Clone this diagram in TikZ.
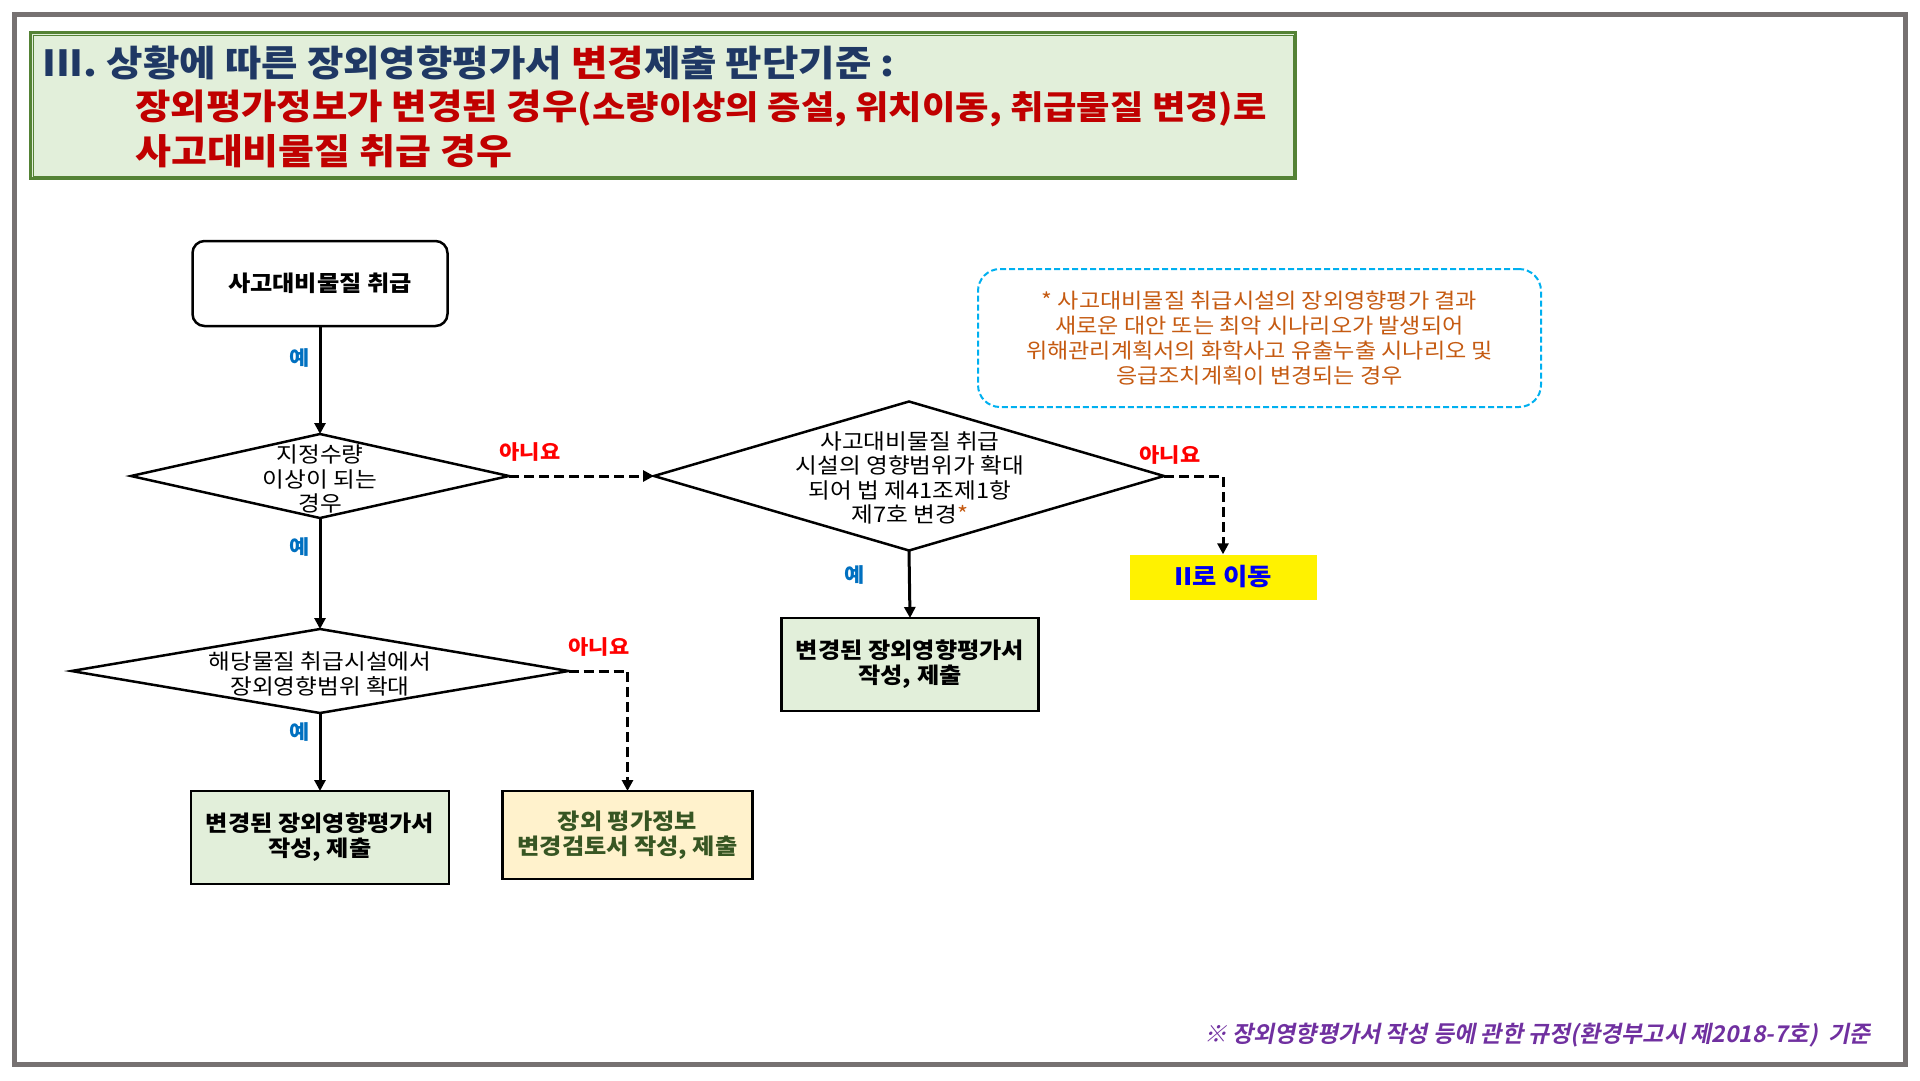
\documentclass[tikz,border=0pt]{standalone}
\usepackage{fontspec}
\setmainfont{Noto Sans CJK KR}[FakeStretch=1.1]
\newfontfamily\footfont{Noto Sans CJK KR Bold}[FakeSlant=0.2]
\usetikzlibrary{shapes.geometric,arrows.meta}
\definecolor{framegray}{RGB}{118,113,113}
\definecolor{titlegreen}{RGB}{84,130,53}
\definecolor{titlefill}{RGB}{226,239,218}
\definecolor{navy}{RGB}{31,56,100}
\definecolor{darkred}{RGB}{192,0,0}
\definecolor{yesblue}{RGB}{0,112,192}
\definecolor{nored}{RGB}{255,0,0}
\definecolor{notecyan}{RGB}{0,176,240}
\definecolor{noteorange}{RGB}{197,90,17}
\definecolor{boxgreen}{RGB}{226,239,218}
\definecolor{boxyellow}{RGB}{255,242,204}
\definecolor{textgreen}{RGB}{55,86,35}
\definecolor{gotoblue}{RGB}{0,0,240}
\definecolor{footpurple}{RGB}{112,48,160}
\tikzset{
  decision/.style={diamond, draw, line width=2.5pt, inner sep=0pt, outer sep=0pt},
  dtext/.style={align=center, inner sep=0pt, font=\fontsize{21.5}{24.5}\selectfont},
  resultbox/.style={draw, line width=2.5pt, inner sep=0pt, outer sep=0pt, align=center, font=\bfseries\fontsize{22}{25}\selectfont},
  conn/.style={line width=3pt, -{Triangle[length=11pt,width=11pt]}},
  dconn/.style={conn, dash pattern=on 10pt off 5pt},
  yeslabel/.style={text=yesblue, font=\bfseries\fontsize{20}{24}\selectfont, inner sep=0pt},
  nolabel/.style={text=nored, font=\bfseries\fontsize{20}{24}\selectfont, inner sep=0pt},
  titleline/.style={anchor=west, inner sep=0pt}
}
\begin{document}
\begin{tikzpicture}[x=1pt,y=-1pt]
\useasboundingbox (0,0) rectangle (1920,1080);
\fill[white] (0,0) rectangle (1920,1080);
\draw[framegray, line width=5pt] (14,14) rectangle (1905,1064);

% title
\node[draw=titlegreen, line width=3pt, fill=titlefill, minimum width=1265, minimum height=146, anchor=north west, inner sep=0pt] (titlebox) at (29,31) {};
\draw[titlegreen, line width=1pt] ([shift={(4,4)}]titlebox.north west) rectangle ([shift={(-4,-4)}]titlebox.south east);
\node[titleline, text=navy, font=\bfseries\fontsize{36}{40}\selectfont] (t1) at (42,63) {III. 상황에 따른 장외영향평가서 \textcolor{darkred}{변경}제출 판단기준 :};
\node[titleline, text=darkred, font=\bfseries\fontsize{35}{40}\selectfont] (t2) at (135,108) {장외평가정보가 변경된 경우{\fontsize{33}{36}\selectfont(소량이상의 증설, 위치이동, 취급물질 변경)로}};
\node[titleline, text=darkred, font=\bfseries\fontsize{35.5}{40}\selectfont] (t3) at (135,151) {사고대비물질 취급 경우};

% note
\node[draw=notecyan, dash pattern=on 6pt off 3pt, line width=2pt, rounded corners=22pt, minimum width=563, minimum height=138, inner sep=0pt, text=noteorange, font=\fontsize{21}{24.8}\selectfont, align=center] (note) at (1259.5,338) {* 사고대비물질 취급시설의 장외영향평가 결과\\새로운 대안 또는 최악 시나리오가 발생되어\\위해관리계획서의 화학사고 유출누출 시나리오 및\\응급조치계획이 변경되는 경우};

% flow
\node[draw, line width=2.5pt, rounded corners=12pt, minimum width=255, minimum height=85, inner sep=0pt, font=\bfseries\fontsize{22}{25}\selectfont] (start) at (320,283.5) {사고대비물질 취급};

\node[decision, minimum width=378, minimum height=84] (d1) at (320,476) {};
\node[dtext] (d1t) at (320,479) {지정수량\\이상이 되는\\경우};

\node[decision, minimum width=510, minimum height=149] (d2) at (909,476) {};
\node[dtext] (d2t) at (910,478) {사고대비물질 취급\\시설의 영향범위가 확대\\되어 법 제41조제1항\\제7호 변경\textcolor{noteorange}{*}};

\node[decision, minimum width=497, minimum height=84] (d3) at (320,671) {};
\node[dtext] (d3t) at (320,674) {해당물질 취급시설에서\\장외영향범위 확대};

\node[resultbox, fill=boxgreen, minimum width=257, minimum height=93] (b2) at (910,664.5) {변경된 장외영향평가서\\작성, 제출};
\node[resultbox, fill=boxgreen, minimum width=258, minimum height=93] (b3) at (320,837.5) {변경된 장외영향평가서\\작성, 제출};
\node[resultbox, fill=boxyellow, text=textgreen, minimum width=250, minimum height=88] (b4) at (627.5,835) {장외 평가정보\\변경검토서 작성, 제출};
\node[fill=yellow, minimum width=187, minimum height=45, inner sep=0pt, text=gotoblue, font=\bfseries\fontsize{24}{26}\selectfont] (goto) at (1223,577) {II로 이동};

\draw[conn] (start.south) -- (d1.north);
\draw[conn] (d1.south) -- (d3.north);
\draw[conn] (d3.south) -- (b3.north);
\draw[conn] (d2.south) -- (b2.north);
\draw[dconn] (d1.east) -- (d2.west);
\draw[dconn] (d2.east) -| (goto.north);
\draw[dconn] (d3.east) -| (b4.north);

\node[yeslabel] (y1) at (300,358) {예};
\node[yeslabel] (y2) at (300,547) {예};
\node[yeslabel] (y3) at (300,732) {예};
\node[yeslabel] (y4) at (855,575) {예};
\node[nolabel] (n1) at (530,452) {아니요};
\node[nolabel] (n2) at (1170,455) {아니요};
\node[nolabel] (n3) at (599,647) {아니요};

% footnote
\node[anchor=west, inner sep=0pt, text=footpurple, font=\footfont\fontsize{23}{26}\selectfont] (foot) at (1204,1035) {※ 장외영향평가서 작성 등에 관한 규정(환경부고시 제2018-7호) ~기준};
\end{tikzpicture}
\end{document}
